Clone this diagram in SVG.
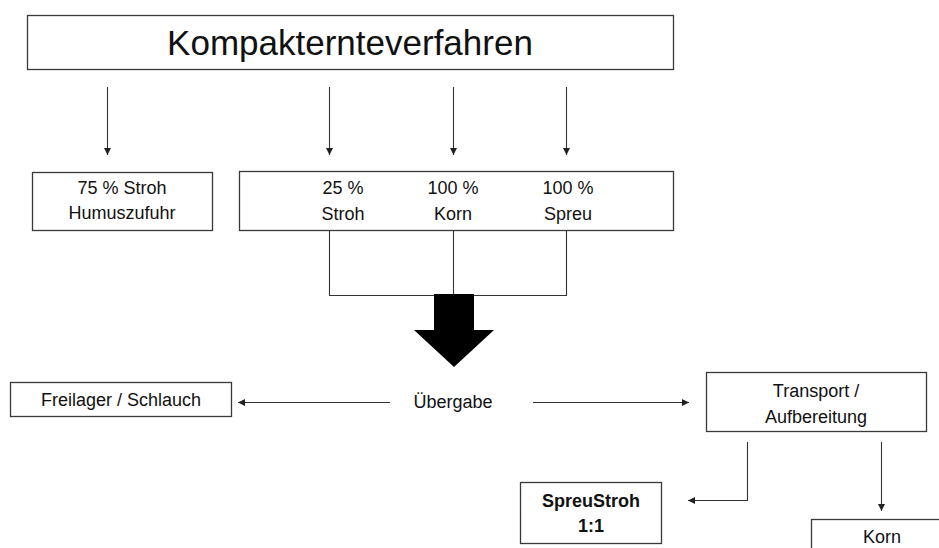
<svg xmlns="http://www.w3.org/2000/svg" width="939" height="548" viewBox="0 0 939 548">
<defs>
<marker id="ah" viewBox="0 0 10 10" refX="10" refY="5" markerWidth="7" markerHeight="7" markerUnits="userSpaceOnUse" orient="auto">
<path d="M0,0 L10,5 L0,10 z" fill="#222"/>
</marker>
<style>
.box{fill:#fff;stroke:#3a3a3a;stroke-width:1.3}
.t{font-family:"Liberation Sans",Arial,sans-serif;font-size:18px;fill:#111;text-anchor:middle}
.b{font-weight:bold}
.c{fill:none;stroke:#333;stroke-width:1.1}
.ca{fill:none;stroke:#333;stroke-width:1.1;marker-end:url(#ah)}
</style>
</defs>
<rect width="939" height="548" fill="#fff"/>
<g id="connectors">
<line class="ca" x1="107.5" y1="87" x2="107.5" y2="155"/>
<line class="ca" x1="329.5" y1="87" x2="329.5" y2="155"/>
<line class="ca" x1="453.5" y1="87" x2="453.5" y2="155"/>
<line class="ca" x1="566.5" y1="87" x2="566.5" y2="155"/>
<polyline class="c" points="329.5,230 329.5,295.5 566.5,295.5 566.5,230"/>
<line class="c" x1="453.5" y1="230" x2="453.5" y2="295"/>
<polygon points="434,294 474,294 474,330 494,330 454,367 414,330 434,330" fill="#000"/>
<line class="ca" x1="390" y1="402.5" x2="238" y2="402.5"/>
<line class="ca" x1="533" y1="402.5" x2="689" y2="402.5"/>
<polyline class="ca" points="747.5,442 747.5,500.5 688,500.5"/>
<line class="ca" x1="881.5" y1="442" x2="881.5" y2="511"/>
</g>
<g id="kompakternteverfahren">
<rect class="box" x="27.5" y="15.5" width="646" height="54"/>
<text class="t" x="350" y="55" style="font-size:35px">Kompakternteverfahren</text>
</g>
<g id="humus">
<rect class="box" x="32.5" y="172.5" width="180" height="58"/>
<text class="t" x="122" y="194">75 % Stroh</text>
<text class="t" x="122" y="219">Humuszufuhr</text>
</g>
<g id="anteile">
<rect class="box" x="239.5" y="171.5" width="434" height="59"/>
<text class="t" x="343" y="194">25 %</text>
<text class="t" x="343" y="220">Stroh</text>
<text class="t" x="453" y="194">100 %</text>
<text class="t" x="453" y="220">Korn</text>
<text class="t" x="568" y="194">100 %</text>
<text class="t" x="568" y="220">Spreu</text>
</g>
<g id="uebergabe">
<text class="t" x="453" y="408">Übergabe</text>
</g>
<g id="freilager">
<rect class="box" x="10.5" y="382.5" width="221" height="34"/>
<text class="t" x="121" y="406">Freilager / Schlauch</text>
</g>
<g id="transport">
<rect class="box" x="706.5" y="372.5" width="220" height="59"/>
<text class="t" x="816" y="397">Transport /</text>
<text class="t" x="816" y="423">Aufbereitung</text>
</g>
<g id="spreustroh">
<rect class="box" x="520.5" y="482.5" width="141" height="61"/>
<text class="t b" x="591" y="507">SpreuStroh</text>
<text class="t b" x="591" y="532">1:1</text>
</g>
<g id="korn">
<rect class="box" x="811.5" y="519.5" width="140" height="40"/>
<text class="t" x="882" y="543">Korn</text>
</g>
</svg>
